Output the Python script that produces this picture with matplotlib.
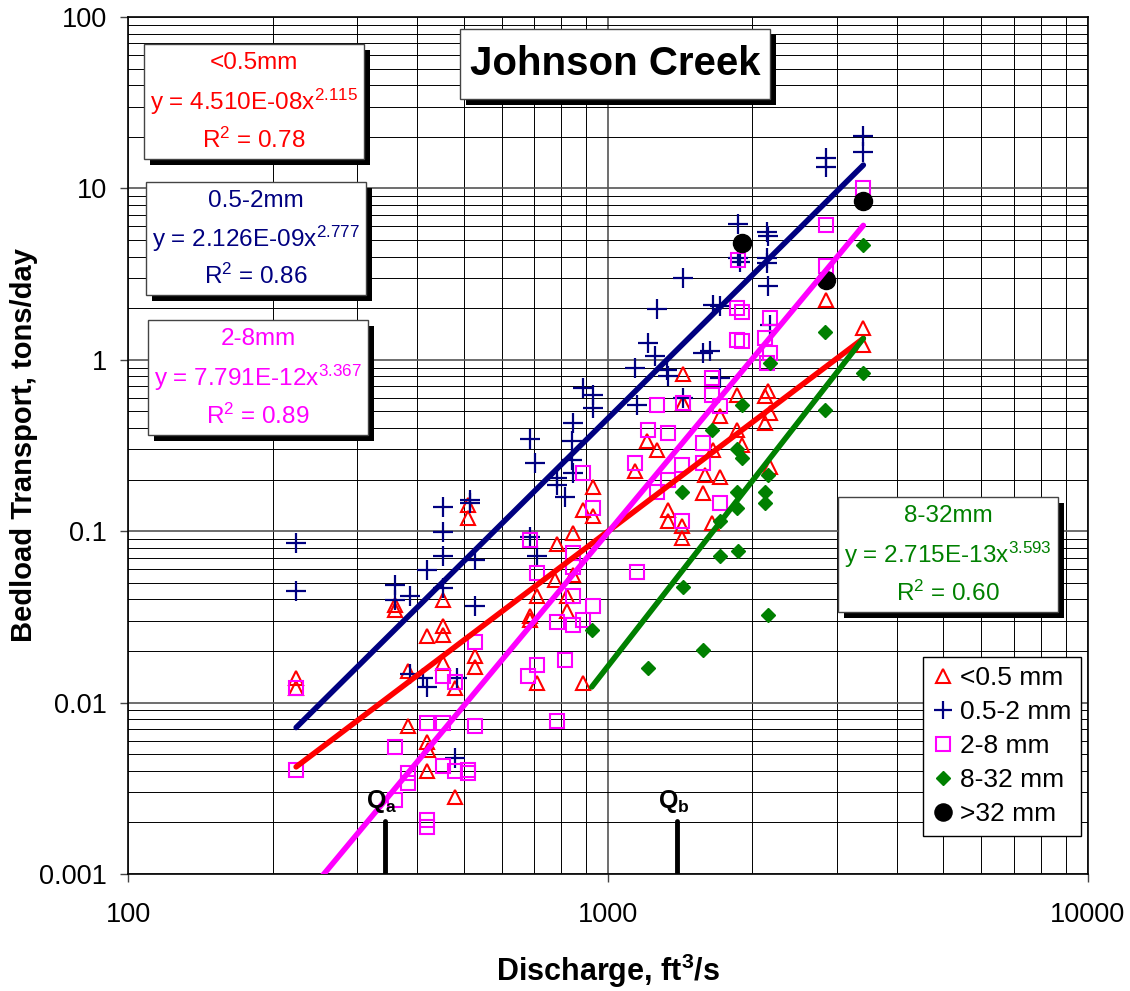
import numpy as np
import matplotlib
matplotlib.use("Agg")
import matplotlib.pyplot as plt
from matplotlib.patches import Rectangle
from matplotlib.ticker import FixedLocator, FuncFormatter, LogLocator, NullFormatter

plt.rcParams['font.family'] = ['Liberation Sans', 'DejaVu Sans']
plt.rcParams['mathtext.default'] = 'regular'

# --- data (discharge ft3/s, bedload tons/day) ---
red_x = [224, 224, 360, 360, 384, 384, 419, 419, 421, 419, 454, 454, 454, 454, 480, 480,
         512, 512, 528, 528, 688, 688, 710, 710, 776, 782, 820, 820, 847, 847, 888, 888,
         932, 932, 1138, 1204, 1264, 1336, 1336, 1424, 1424, 1435, 1435, 1580, 1592, 1644,
         1657, 1711, 1711, 1854, 1854, 1899, 2124, 2124, 2158, 2175, 2175, 2840, 3404, 3404]
red_y = [0.0140, 0.0122, 0.0372, 0.0348, 0.0152, 0.0073, 0.0243, 0.0059, 0.0053, 0.0040,
         0.0398, 0.0278, 0.0249, 0.0170, 0.0122, 0.0028, 0.143, 0.119, 0.0186, 0.0162,
         0.0318, 0.0304, 0.0416, 0.0130, 0.052, 0.084, 0.0416, 0.034, 0.0975, 0.0557,
         0.133, 0.013, 0.182, 0.122, 0.223, 0.334, 0.298, 0.133, 0.114, 0.107, 0.091,
         0.83, 0.56, 0.167, 0.213, 0.111, 0.298, 0.467, 0.208, 0.625, 0.390, 0.32,
         0.611, 0.427, 0.653, 0.489, 0.238, 2.24, 1.53, 1.22]

blue_x = [224, 224, 360, 360, 387, 387, 412, 419, 419, 454, 454, 454, 454, 480, 484, 516,
          516, 528, 528, 688, 688, 704, 710, 782, 782, 813, 840, 840, 847, 847, 888, 932,
          932, 1138, 1148, 1213, 1253, 1264, 1325, 1336, 1435, 1435, 1580, 1632, 1657,
          1711, 1711, 1869, 1869, 1884, 2141, 2141, 2141, 2158, 2158, 2175, 2846, 2846,
          3404, 3404]
blue_y = [0.0853, 0.0445, 0.0487, 0.0398, 0.0416, 0.0147, 0.0139, 0.0595, 0.0124, 0.139,
          0.0995, 0.0712, 0.0467, 0.00476, 0.0139, 0.152, 0.145, 0.0681, 0.0364, 0.345,
          0.093, 0.250, 0.0712, 0.205, 0.185, 0.159, 0.334, 0.261, 0.427, 0.218, 0.684,
          0.625, 0.523, 0.895, 0.546, 1.25, 1.045, 1.98, 0.874, 0.799, 2.98, 0.60, 1.09,
          1.12, 2.09, 2.05, 0.78, 6.2, 3.9, 3.7, 5.6, 3.92, 3.66, 5.3, 2.68, 1.60, 15.0,
          13.4, 20.1, 16.4]

mag_x = [224, 224, 360, 360, 384, 384, 419, 419, 419, 454, 454, 454, 480, 480, 512, 512,
         528, 528, 681, 688, 710, 710, 782, 782, 815, 847, 847, 847, 847, 888, 888, 932,
         932, 1138, 1150, 1210, 1264, 1264, 1336, 1336, 1424, 1424, 1435, 1580, 1580, 1644,
         1644, 1711, 1711, 1854, 1854, 1869, 1899, 1899, 2124, 2141, 2175, 2175, 2846,
         2846, 3404]
mag_y = [0.0122, 0.00405, 0.00554, 0.00271, 0.00388, 0.00339, 0.00759, 0.00207, 0.00189,
         0.0142, 0.00759, 0.00424, 0.0132, 0.0040, 0.00405, 0.00388, 0.0227, 0.00726,
         0.0142, 0.0891, 0.0569, 0.0166, 0.0297, 0.00776, 0.0178, 0.0745, 0.062, 0.0416,
         0.0284, 0.218, 0.0304, 0.136, 0.0364, 0.250, 0.058, 0.390, 0.546, 0.170, 0.200,
         0.374, 0.244, 0.114, 0.56, 0.327, 0.250, 0.782, 0.625, 0.534, 0.146, 2.0, 1.31,
         3.83, 1.91, 1.28, 1.34, 0.957, 1.75, 1.09, 6.13, 3.50, 10.0]

green_x = [925, 1213, 1424, 1435, 1580, 1644, 1711, 1711, 1854, 1854, 1860, 1869, 1899,
           1899, 2124, 2124, 2158, 2158, 2175, 2832, 2832, 3404, 3404]
green_y = [0.0266, 0.0159, 0.170, 0.0475, 0.0203, 0.390, 0.114, 0.0712, 0.170, 0.136,
           0.30, 0.0762, 0.546, 0.267, 0.170, 0.146, 0.213, 0.0325, 0.957, 1.46, 0.511,
           4.69, 0.836]

black_x = [1899, 2846, 3404]
black_y = [4.83, 2.93, 8.39]

# power-law fits y = a * x^b shown on the chart
fit_a = [4.510e-08, 2.126e-09, 7.791e-12, 2.715e-13]
fit_b = [2.115, 2.777, 3.367, 3.593]
fit_xmin = [224, 224, 224, 925]
fit_xmax = [3404, 3404, 3404, 3404]
fit_r2 = ["0.78", "0.86", "0.89", "0.60"]
fit_names = ["<0.5mm", "0.5-2mm", "2-8mm", "8-32mm"]
colors = ["#FF0000", "#000080", "#FF00FF", "#008000"]

legend_labels = ["<0.5 mm", "0.5-2 mm", "2-8 mm", "8-32 mm", ">32 mm"]
q_x = [343, 1393]
q_names = ["a", "b"]

fig = plt.figure(figsize=(11.3, 9.91), dpi=100)
ax = fig.add_axes([0.1133, 0.1181, 0.8495, 0.8648])
ax.set_xscale("log")
ax.set_yscale("log")
ax.set_xlim(100, 10000)
ax.set_ylim(0.001, 100)

# grid
ax.xaxis.set_minor_locator(LogLocator(base=10, subs=np.arange(2, 10)))
ax.yaxis.set_minor_locator(LogLocator(base=10, subs=np.arange(2, 10)))
ax.xaxis.set_minor_formatter(NullFormatter())
ax.yaxis.set_minor_formatter(NullFormatter())
ax.grid(True, which="major", color="#555555", lw=1.2)
ax.grid(True, which="minor", color="black", lw=0.7)
ax.set_axisbelow(True)
ax.tick_params(which="minor", length=0)
ax.tick_params(which="major", length=6, width=1, color="#444444", labelsize=19.5)
ax.tick_params(axis="y", pad=9)
ax.tick_params(axis="x", pad=14)
ax.xaxis.set_major_locator(FixedLocator([100, 1000, 10000]))
ax.yaxis.set_major_locator(FixedLocator([0.001, 0.01, 0.1, 1, 10, 100]))
ax.xaxis.set_major_formatter(FuncFormatter(lambda v, p: "%g" % v))
ax.yaxis.set_major_formatter(FuncFormatter(lambda v, p: "%g" % v))
for s in ax.spines.values():
    s.set_linewidth(1.2)

# points
h1, = ax.plot(red_x, red_y, ls="none", marker="^", ms=10, mfc="none", mec=colors[0], mew=1.5)
h2, = ax.plot(blue_x, blue_y, ls="none", marker="+", ms=14, mec=colors[1], mew=1.6)
h3, = ax.plot(mag_x, mag_y, ls="none", marker="s", ms=10, mfc="none", mec=colors[2], mew=1.5)
h4, = ax.plot(green_x, green_y, ls="none", marker="D", ms=7, color=colors[3])
h5, = ax.plot(black_x, black_y, ls="none", marker="o", ms=13, color="black")

# trend lines
for i in range(4):
    xx = np.array([fit_xmin[i], fit_xmax[i]], dtype=float)
    ax.plot(xx, fit_a[i] * xx ** fit_b[i], color=colors[i], lw=4, solid_capstyle="round", zorder=4)

# Qa / Qb marks
for qx, qn in zip(q_x, q_names):
    ax.plot([qx, qx], [0.001, 0.00205], color="black", lw=3.5, solid_capstyle="round", zorder=5)
    ax.text(qx * 0.985, 0.00222, "Q$_{%s}$" % qn, ha="center", va="bottom",
            fontsize=18, fontweight="bold", zorder=6)


def shadow_box(x0, y0, x1, y1, lines, color, fs):
    dx, dy = 6 / 960, 6 / 857
    ax.add_patch(Rectangle((x0 + dx, y0 - dy), x1 - x0, y1 - y0, transform=ax.transAxes,
                           facecolor="black", edgecolor="none", zorder=7, clip_on=False))
    ax.add_patch(Rectangle((x0, y0), x1 - x0, y1 - y0, transform=ax.transAxes,
                           facecolor="white", edgecolor="#444444", lw=1, zorder=8, clip_on=False))
    n = len(lines)
    h = y1 - y0
    for k, t in enumerate(lines):
        yy = y1 - h * (k + 0.5) / n
        ax.text((x0 + x1) / 2, yy, t, transform=ax.transAxes, ha="center", va="center",
                color=color, fontsize=fs, zorder=9)


boxes = [(0.0167, 0.834, 0.2458, 0.9685),
         (0.0188, 0.6756, 0.2479, 0.8075),
         (0.0208, 0.512, 0.2500, 0.6464),
         (0.7396, 0.3057, 0.9688, 0.4399)]
for i in range(4):
    x0, y0, x1, y1 = boxes[i]
    lines = [fit_names[i],
             "y = %s$^{%.3f}$" % (("%.3E" % fit_a[i]) + "x", fit_b[i]),
             "R$^{2}$ = " + fit_r2[i]]
    shadow_box(x0, y0, x1, y1, lines, colors[i], 17.5)

# title box
ax.add_patch(Rectangle((0.3458 + 6 / 960, 0.9043 - 6 / 857), 0.3229, 0.0817, transform=ax.transAxes,
                       facecolor="black", edgecolor="none", zorder=7, clip_on=False))
ax.add_patch(Rectangle((0.3458, 0.9043), 0.3229, 0.0817, transform=ax.transAxes,
                       facecolor="white", edgecolor="#444444", lw=1, zorder=8, clip_on=False))
ax.text(0.3458 + 0.3229 / 2, 0.9043 + 0.0817 / 2, "Johnson Creek", transform=ax.transAxes,
        ha="center", va="center", fontsize=29, fontweight="bold", zorder=9)

leg = ax.legend([h1, h2, h3, h4, h5], legend_labels, loc="upper right",
                bbox_to_anchor=(0.9927, 0.2532), fontsize=19, frameon=True, fancybox=False,
                edgecolor="black", framealpha=1, handlelength=0.8, handletextpad=0.25,
                labelspacing=0.38, borderpad=0.35, borderaxespad=0, markerscale=0.95)
leg.get_frame().set_linewidth(1)
leg.set_zorder(10)

ax.set_xlabel("Discharge, ft$^{3}$/s", fontsize=22, fontweight="bold", labelpad=17)
ax.set_ylabel("Bedload Transport, tons/day", fontsize=21, fontweight="bold", labelpad=1)

fig.savefig("out.png", dpi=100)
